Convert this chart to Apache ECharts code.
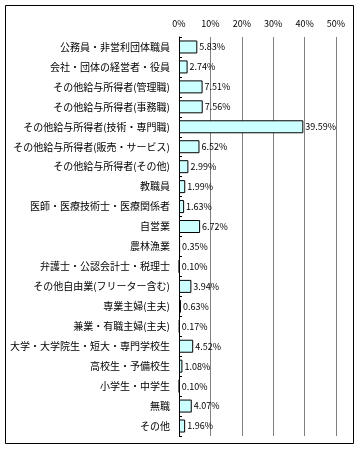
<!DOCTYPE html>
<html><head><meta charset="utf-8">
<script src="https://cdn.jsdelivr.net/npm/echarts@6/dist/echarts.min.js"></script>
<style>html,body{margin:0;padding:0;background:#fff}#c{width:360px;height:450px}</style>
</head><body><div id="c"></div>
<script>
const categories = ["公務員・非営利団体職員","会社・団体の経営者・役員","その他給与所得者(管理職)","その他給与所得者(事務職)","その他給与所得者(技術・専門職)","その他給与所得者(販売・サービス)","その他給与所得者(その他)","教職員","医師・医療技術士・医療関係者","自営業","農林漁業","弁護士・公認会計士・税理士","その他自由業(フリーター含む)","専業主婦(主夫)","兼業・有職主婦(主夫)","大学・大学院生・短大・専門学校生","高校生・予備校生","小学生・中学生","無職","その他"];
const values = [5.83,2.74,7.51,7.56,39.59,6.52,2.99,1.99,1.63,6.72,0.35,0.10,3.94,0.63,0.17,4.52,1.08,0.10,4.07,1.96];
const tickLabels = ["0%","10%","20%","30%","40%","50%"];
const font = '"Noto Sans CJK JP", sans-serif';
const chart = echarts.init(document.getElementById('c'), null, {renderer:'canvas'});
chart.setOption({
  animation:false,
  graphic:[{type:'rect',shape:{x:5.5,y:5.5,width:348,height:438},style:{fill:'none',stroke:'#000',lineWidth:1},z:100}],
  grid:{left:179,right:24,top:37,bottom:14,containLabel:false},
  xAxis:{type:'value',position:'top',min:0,max:50,interval:10,
    axisLine:{show:false},axisTick:{show:false},
    splitLine:{show:true,lineStyle:{color:'#808080',width:1}},
    axisLabel:{color:'#000',fontSize:9,fontFamily:font,margin:9,formatter:(v)=>tickLabels[v/10]}},
  yAxis:{type:'category',inverse:true,data:categories,
    axisLine:{show:true,lineStyle:{color:'#000',width:1}},
    axisTick:{show:true,inside:true,length:3,lineStyle:{color:'#000'}},
    axisLabel:{color:'#000',fontSize:10,fontFamily:font,margin:9}},
  series:[{type:'bar',data:values,barWidth:13,
    itemStyle:{color:'#CCFFFF',borderColor:'#000',borderWidth:1},
    label:{show:true,position:'right',distance:2,color:'#000',fontSize:9,fontFamily:font,
      formatter:(p)=>p.value.toFixed(2)+'%'}}]
});
</script></body></html>
